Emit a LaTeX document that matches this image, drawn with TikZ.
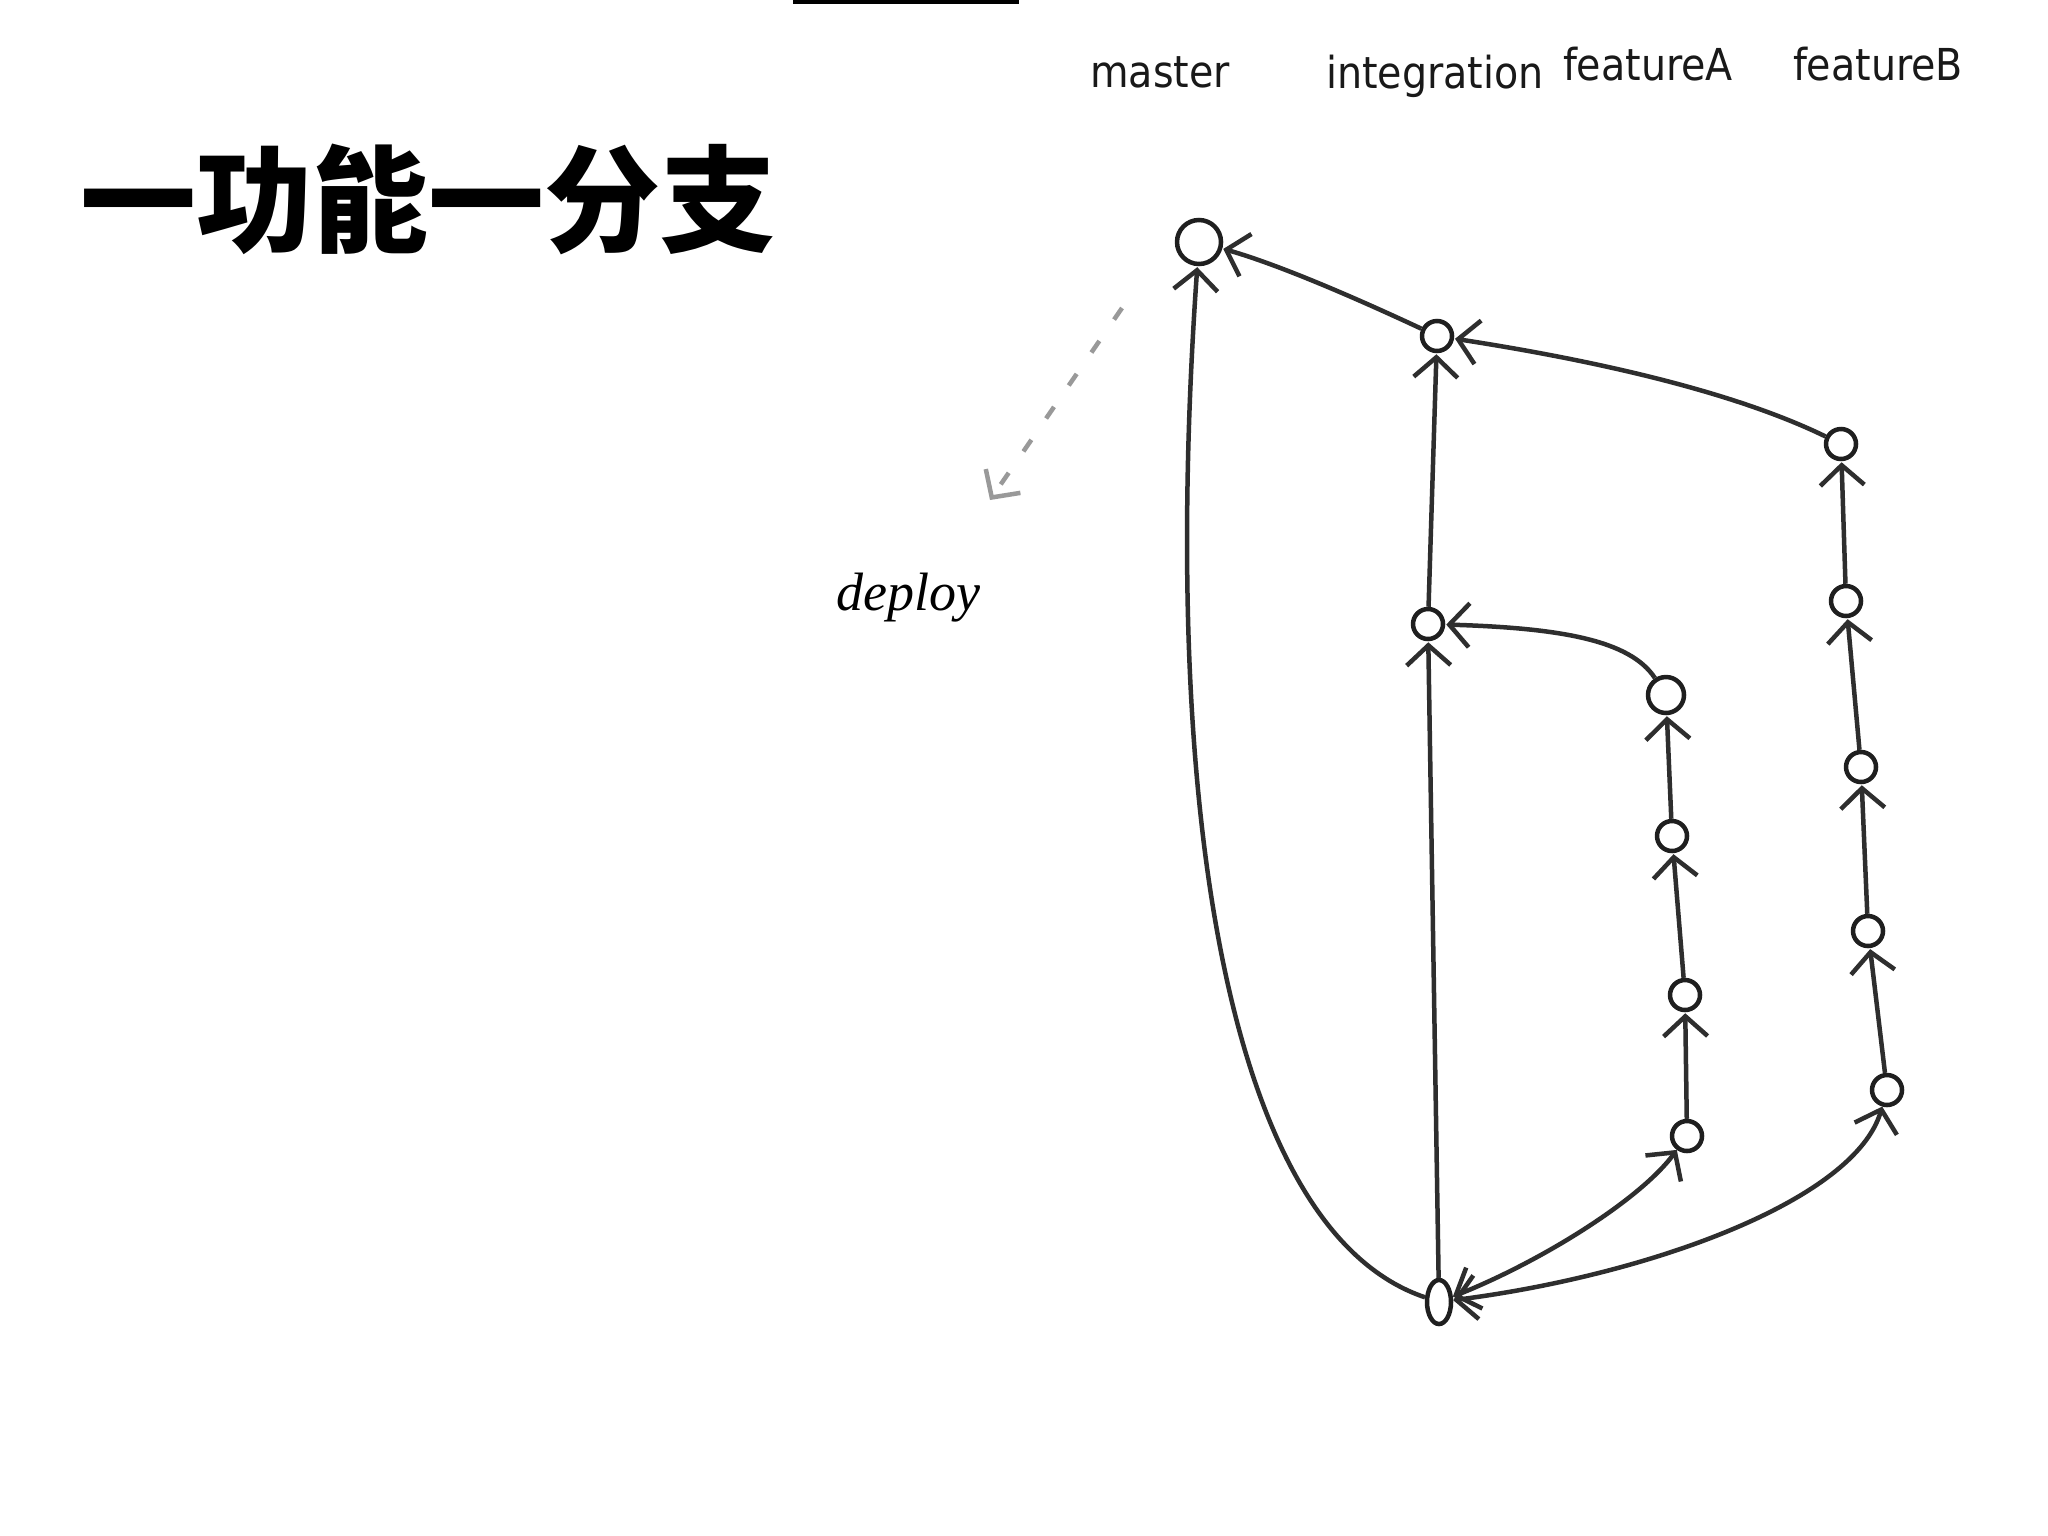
\documentclass[tikz,border=0pt]{standalone}
\usepackage{fontspec}
\setmainfont{DejaVu Sans}
\newfontfamily\cjk{Noto Sans CJK SC}
\newfontfamily\hand{DejaVu Sans Condensed}
\newfontfamily\cursive{Liberation Serif}
\usetikzlibrary{arrows.meta,shapes.geometric}
\begin{document}
\begin{tikzpicture}[x=1pt,y=-1pt,
  commit/.style={circle,draw=black!88,line width=4.5pt,fill=white,inner sep=0pt,minimum size=30pt},
  bigcommit/.style={commit,minimum size=44pt},
  rootcommit/.style={ellipse,draw=black!88,line width=4.5pt,fill=white,inner sep=0pt,minimum width=24pt,minimum height=44pt},
  barb/.tip={Straight Barb[length=20pt,width=44pt,line width=4.5pt]},
  edge/.style={draw=black!82,line width=4.5pt,-barb,shorten >=1pt},
  edgetwo/.style={draw=black!82,line width=4.5pt,barb-barb},
  branchlabel/.style={font=\hand\fontsize{44}{44}\selectfont,inner sep=0pt,text=black!90},
  deploystyle/.style={draw=black!40,line width=4.5pt,dash pattern=on 14pt off 26pt,-{Straight Barb[length=20pt,width=42pt,line width=4.5pt]}}
]
\useasboundingbox (0,0) rectangle (2048,1535);
\fill[white] (0,0) rectangle (2048,1535);

% top edge line
\draw[line width=5pt,black] (793,1) -- (1019,1);

% title
\node[font=\cjk\bfseries\fontsize{116}{116}\selectfont,inner sep=0pt] (title) at (428,199) {一功能一分支};

% branch labels
\node[branchlabel] (lmaster) at (1160,72) {master};
\node[branchlabel] (linteg) at (1435,76) {integration};
\node[branchlabel] (lfa) at (1648,64) {featureA};
\node[branchlabel] (lfb) at (1878,64) {featureB};
\node[font=\cursive\itshape\fontsize{54}{54}\selectfont,inner sep=0pt] (ldeploy) at (908,598) {deploy};

% commits
\node[bigcommit] (M1) at (1199,242) {};
\node[commit] (I3) at (1437,336) {};
\node[commit] (I2) at (1428,624) {};
\node[rootcommit] (B) at (1439,1302) {};
\node[commit,minimum size=36pt] (A4) at (1666,695) {};
\node[commit] (A3) at (1672,836) {};
\node[commit] (A2) at (1685,995) {};
\node[commit] (A1) at (1687,1136) {};
\node[commit] (B6) at (1841,444) {};
\node[commit] (B5) at (1846,601) {};
\node[commit] (B4) at (1861,767) {};
\node[commit] (B3) at (1868,931) {};
\node[commit] (B2) at (1887,1090) {};

% deploy arrow
\coordinate (dstart) at (1122,308);
\coordinate (dend) at (990,500);
\draw[deploystyle] (dstart) -- (dend);

% edges
\draw[edge] (B) .. controls (1225,1230) and (1160,800) .. (M1);
\draw[edge] (I3) .. controls (1360,300) and (1280,265) .. (M1);
\draw[edge] (I2) -- (I3);
\draw[edge] (B) -- (I2);
\draw[edge] (B6) .. controls (1720,385) and (1560,355) .. (I3);
\draw[edge] (A4) .. controls (1630,640) and (1560,628) .. (I2);
\draw[edge] (A1) -- (A2);
\draw[edge] (A2) -- (A3);
\draw[edge] (A3) -- (A4);
\draw[edge] (B2) -- (B3);
\draw[edge] (B3) -- (B4);
\draw[edge] (B4) -- (B5);
\draw[edge] (B5) -- (B6);
\draw[edgetwo] (B) .. controls (1540,1262) and (1640,1200) .. (A1);
\draw[edgetwo] (B) .. controls (1650,1275) and (1855,1200) .. (B2);
\end{tikzpicture}
\end{document}
